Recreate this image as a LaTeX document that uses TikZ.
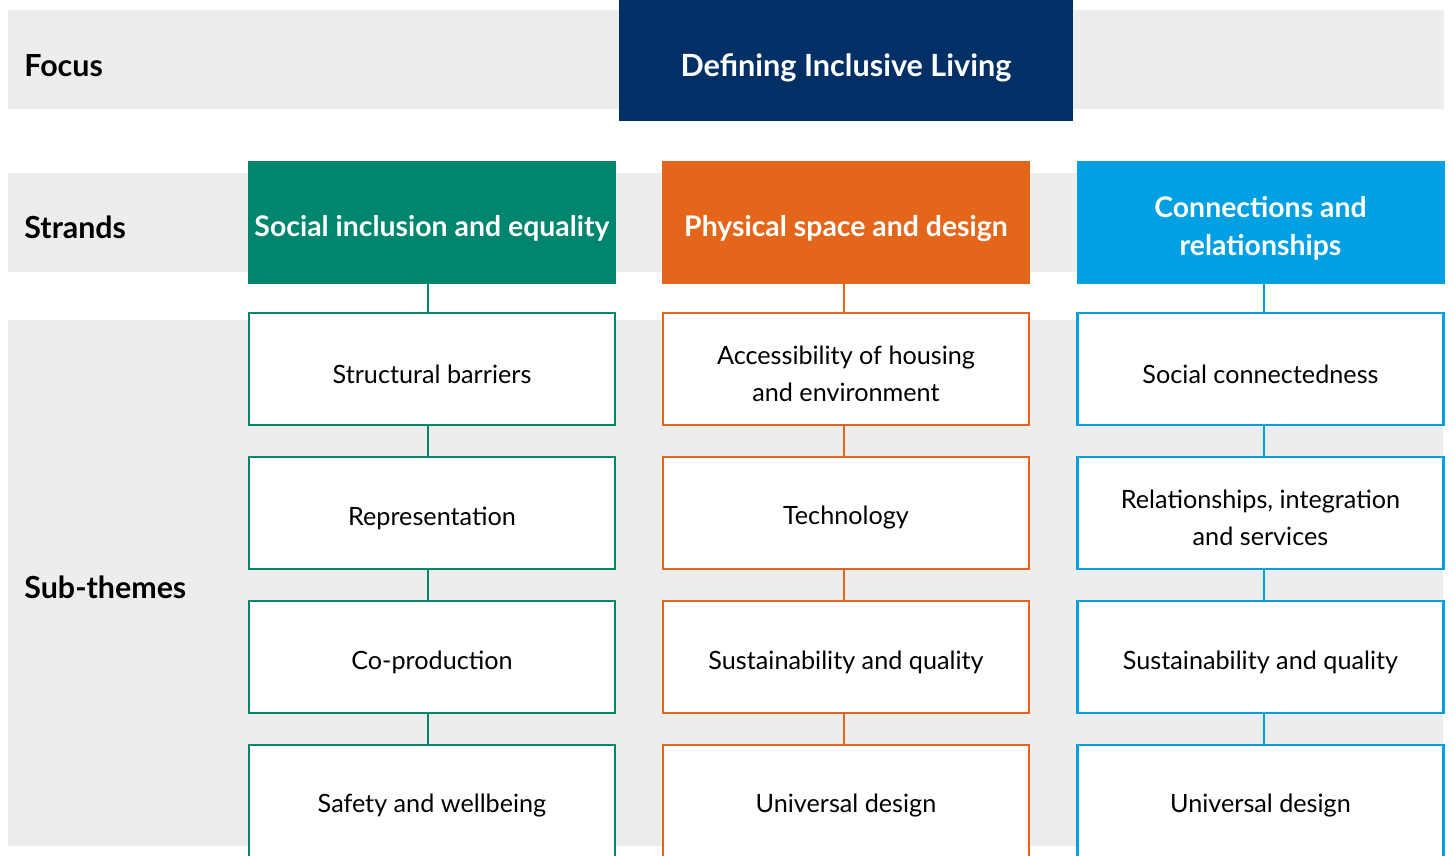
\documentclass[tikz,border=0pt]{standalone}
\usepackage{fontspec}
\setmainfont{Lato}
\usetikzlibrary{calc}
\definecolor{bandgray}{HTML}{EDEDED}
\definecolor{navy}{HTML}{003066}
\definecolor{sgreen}{HTML}{00856F}
\definecolor{sorange}{HTML}{E3661A}
\definecolor{sblue}{HTML}{00A0E2}
\tikzset{
  band/.style={fill=bandgray, draw=none},
  rowlabel/.style={anchor=west, inner sep=0pt, font=\bfseries\fontsize{15.2}{18}\selectfont, text=black},
  focusbox/.style={fill=navy, draw=none, minimum width=227pt, minimum height=60.5pt, inner sep=0pt},
  focustext/.style={inner sep=0pt, text=white, font=\bfseries\fontsize{15.3}{18}\selectfont},
  strandbox/.style={draw=none, minimum width=184pt, minimum height=61.5pt, inner sep=0pt},
  strandtext/.style={inner sep=0pt, text=white, align=center, font=\bfseries\fontsize{14.2}{19}\selectfont},
  subbox/.style={fill=white, line width=1.3pt, minimum width=183pt, minimum height=56pt, inner sep=0pt},
  subtext/.style={inner sep=0pt, text=black, align=center, font=\fontsize{12.6}{18.5}\selectfont},
  link/.style={line width=1.3pt},
}
\begin{document}
\begin{tikzpicture}[x=0.5pt,y=-0.5pt]
\useasboundingbox (0,0) rectangle (1453,856);
\clip (0,0) rectangle (1453,856);
% bands
\fill[band] (8,10) rectangle (1444,109);
\fill[band] (8,173) rectangle (1444,272);
\fill[band] (8,320) rectangle (1443,846);
% row labels
\node[rowlabel] (lfocus) at (24,65.5) {Focus};
\node[rowlabel] (lstrands) at (24,227.5) {Strands};
\node[rowlabel] (lsub) at (24,587.5) {Sub-themes};
% focus
\node[focusbox] (focus) at (846,60.5) {};
\node[focustext] (focust) at ($(focus.center)+(0,7)$) {Defining Inclusive Living};
% strands
\node[strandbox, fill=sgreen] (s1) at (432,222.5) {};
\node[strandbox, fill=sorange] (s2) at (846,222.5) {};
\node[strandbox, fill=sblue] (s3) at (1260.5,222.5) {};
\node[strandtext] (s1t) at ($(s1.center)+(0,6)$) {Social inclusion and equality};
\node[strandtext] (s2t) at ($(s2.center)+(0,6)$) {Physical space and design};
\node[strandtext] (s3t) at ($(s3.center)+(0,6)$) {Connections and\\relationships};
% sub-theme boxes
\node[subbox, draw=sgreen] (g1) at (432,369) {};
\node[subbox, draw=sgreen] (g2) at (432,513) {};
\node[subbox, draw=sgreen] (g3) at (432,657) {};
\node[subbox, draw=sgreen] (g4) at (432,801) {};
\node[subbox, draw=sorange] (o1) at (846,369) {};
\node[subbox, draw=sorange] (o2) at (846,513) {};
\node[subbox, draw=sorange] (o3) at (846,657) {};
\node[subbox, draw=sorange] (o4) at (846,801) {};
\node[subbox, draw=sblue] (b1) at (1260.5,369) {};
\node[subbox, draw=sblue] (b2) at (1260.5,513) {};
\node[subbox, draw=sblue] (b3) at (1260.5,657) {};
\node[subbox, draw=sblue] (b4) at (1260.5,801) {};
% sub-theme texts
\node[subtext] (g1t) at ($(g1.center)+(0,5)$) {Structural barriers};
\node[subtext] (g2t) at ($(g2.center)+(0,5)$) {Representation};
\node[subtext] (g3t) at ($(g3.center)+(0,5)$) {Co-production};
\node[subtext] (g4t) at ($(g4.center)+(0,5)$) {Safety and wellbeing};
\node[subtext] (o1t) at ($(o1.center)+(0,5)$) {Accessibility of housing\\and environment};
\node[subtext] (o2t) at ($(o2.center)+(0,5)$) {Technology};
\node[subtext] (o3t) at ($(o3.center)+(0,5)$) {Sustainability and quality};
\node[subtext] (o4t) at ($(o4.center)+(0,5)$) {Universal design};
\node[subtext] (b1t) at ($(b1.center)+(0,5)$) {Social connectedness};
\node[subtext] (b2t) at ($(b2.center)+(0,5)$) {Relationships, integration\\and services};
\node[subtext] (b3t) at ($(b3.center)+(0,5)$) {Sustainability and quality};
\node[subtext] (b4t) at ($(b4.center)+(0,5)$) {Universal design};
% connector columns
\coordinate (gx) at (428,0);
\coordinate (ox) at (844,0);
\coordinate (bx) at (1264,0);
\draw[link, sgreen] (s1.south -| gx) -- (g1.north -| gx);
\draw[link, sgreen] (g1.south -| gx) -- (g2.north -| gx);
\draw[link, sgreen] (g2.south -| gx) -- (g3.north -| gx);
\draw[link, sgreen] (g3.south -| gx) -- (g4.north -| gx);
\draw[link, sorange] (s2.south -| ox) -- (o1.north -| ox);
\draw[link, sorange] (o1.south -| ox) -- (o2.north -| ox);
\draw[link, sorange] (o2.south -| ox) -- (o3.north -| ox);
\draw[link, sorange] (o3.south -| ox) -- (o4.north -| ox);
\draw[link, sblue] (s3.south -| bx) -- (b1.north -| bx);
\draw[link, sblue] (b1.south -| bx) -- (b2.north -| bx);
\draw[link, sblue] (b2.south -| bx) -- (b3.north -| bx);
\draw[link, sblue] (b3.south -| bx) -- (b4.north -| bx);
\end{tikzpicture}
\end{document}
